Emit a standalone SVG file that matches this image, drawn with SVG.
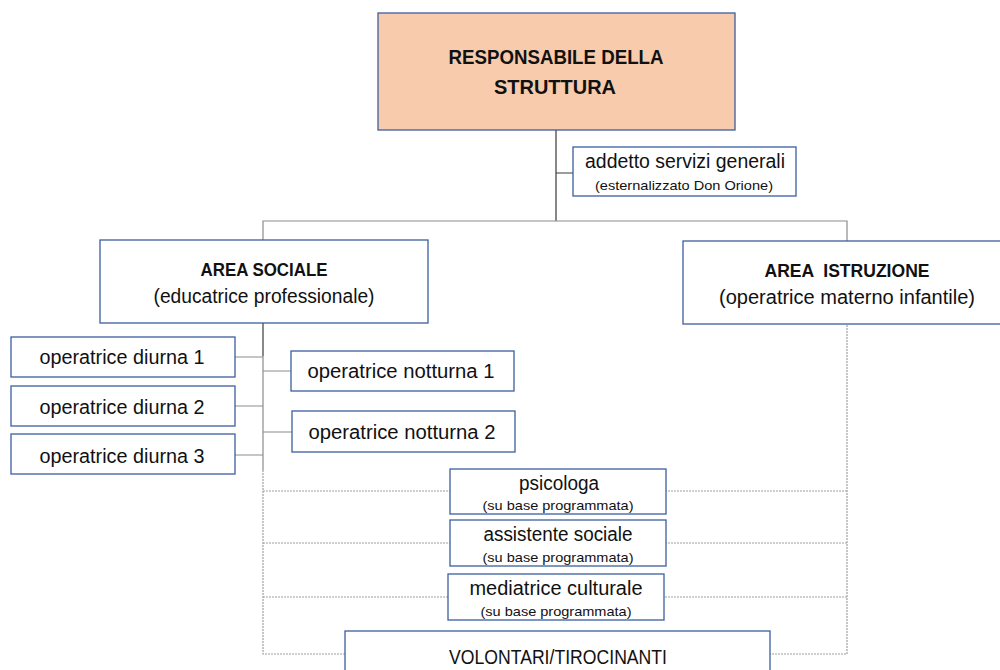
<svg xmlns="http://www.w3.org/2000/svg" width="1000" height="670" viewBox="0 0 1000 670">
<style>
.box{fill:#fff;stroke:#3b5fa0;stroke-width:1.3}
.top{fill:#f8cbad;stroke:#3b5fa0;stroke-width:1.3}
text{font-family:"Liberation Sans",Arial,sans-serif;fill:#111;text-anchor:middle}
.t{font-size:19.5px}
.s{font-size:13px}
.b{font-size:20px;font-weight:bold}
.bs{font-size:18px;font-weight:bold}
.solid{stroke:#8c8c8c;stroke-width:1.2;fill:none}
.dark{stroke:#3a3a3a;stroke-width:1.2;fill:none}
.dot{stroke:#a0a0a0;stroke-width:1.2;fill:none;stroke-dasharray:2 1}
</style>
<rect width="1000" height="670" fill="#fff"/>
<g id="connectors">
<path class="dark" d="M556 130V221M556 173H573"/>
<path class="solid" d="M263 240V221H847V241"/>
<path class="dark" d="M263 323V356"/>
<path class="solid" d="M263 356V470M235 357H263M235 406H263M235 455H263M263 371H291M263 432H292"/>
<path class="dot" d="M263 470V654H847V324M263 491H847M263 543H847M263 597H847"/>
</g>
<g id="responsabile">
<rect class="top" x="378" y="13" width="357" height="117"/>
<text class="b" x="556" y="64" textLength="215" lengthAdjust="spacingAndGlyphs">RESPONSABILE DELLA</text>
<text class="b" x="555" y="94" textLength="122" lengthAdjust="spacingAndGlyphs">STRUTTURA</text>
</g>
<g id="addetto">
<rect class="box" x="573" y="147" width="223" height="49"/>
<text class="t" x="685" y="168" textLength="200" lengthAdjust="spacingAndGlyphs">addetto servizi generali</text>
<text class="s" x="684" y="190" textLength="178" lengthAdjust="spacingAndGlyphs">(esternalizzato Don Orione)</text>
</g>
<g id="area-sociale">
<rect class="box" x="100" y="240" width="328" height="83"/>
<text class="bs" x="264" y="276" textLength="127" lengthAdjust="spacingAndGlyphs">AREA SOCIALE</text>
<text class="t" x="264" y="303" textLength="221" lengthAdjust="spacingAndGlyphs">(educatrice professionale)</text>
</g>
<g id="area-istruzione">
<rect class="box" x="683" y="241" width="330" height="83"/>
<text class="bs" x="847" y="277" textLength="165" lengthAdjust="spacingAndGlyphs" xml:space="preserve">AREA  ISTRUZIONE</text>
<text class="t" x="847" y="304" textLength="256" lengthAdjust="spacingAndGlyphs">(operatrice materno infantile)</text>
</g>
<g id="diurna1">
<rect class="box" x="11" y="337" width="224" height="40"/>
<text class="t" x="122" y="364" textLength="165" lengthAdjust="spacingAndGlyphs">operatrice diurna 1</text>
</g>
<g id="diurna2">
<rect class="box" x="11" y="386" width="224" height="40"/>
<text class="t" x="122" y="414" textLength="165" lengthAdjust="spacingAndGlyphs">operatrice diurna 2</text>
</g>
<g id="diurna3">
<rect class="box" x="11" y="434" width="224" height="40"/>
<text class="t" x="122" y="463" textLength="165" lengthAdjust="spacingAndGlyphs">operatrice diurna 3</text>
</g>
<g id="notturna1">
<rect class="box" x="291" y="351" width="223" height="40"/>
<text class="t" x="401" y="378" textLength="187" lengthAdjust="spacingAndGlyphs">operatrice notturna 1</text>
</g>
<g id="notturna2">
<rect class="box" x="292" y="411" width="223" height="41"/>
<text class="t" x="402" y="439" textLength="187" lengthAdjust="spacingAndGlyphs">operatrice notturna 2</text>
</g>
<g id="psicologa">
<rect class="box" x="450" y="469" width="216" height="45"/>
<text class="t" x="559" y="490" textLength="80" lengthAdjust="spacingAndGlyphs">psicologa</text>
<text class="s" x="558" y="510" textLength="151" lengthAdjust="spacingAndGlyphs">(su base programmata)</text>
</g>
<g id="assistente">
<rect class="box" x="450" y="520" width="216" height="46"/>
<text class="t" x="558" y="541" textLength="149" lengthAdjust="spacingAndGlyphs">assistente sociale</text>
<text class="s" x="558" y="562" textLength="151" lengthAdjust="spacingAndGlyphs">(su base programmata)</text>
</g>
<g id="mediatrice">
<rect class="box" x="448" y="574" width="216" height="46"/>
<text class="t" x="556" y="595" textLength="173" lengthAdjust="spacingAndGlyphs">mediatrice culturale</text>
<text class="s" x="556" y="616" textLength="151" lengthAdjust="spacingAndGlyphs">(su base programmata)</text>
</g>
<g id="volontari">
<rect class="box" x="345" y="631" width="425" height="50"/>
<text class="t" x="558" y="664" textLength="218" lengthAdjust="spacingAndGlyphs">VOLONTARI/TIROCINANTI</text>
</g>
</svg>
